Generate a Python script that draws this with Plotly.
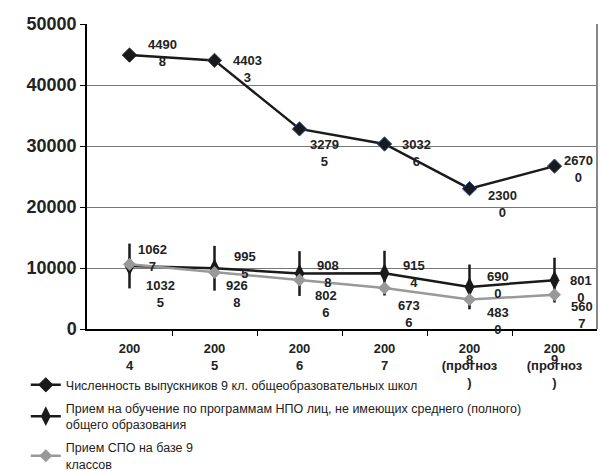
import plotly.graph_objects as go

years = ["2004", "2005", "2006", "2007", "2008", "2009"]
tick_labels = ["200<br>4", "200<br>5", "200<br>6", "200<br>7", "200<br>(прогноз<br>)", "200<br>(прогноз<br>)"]
forecast_digits = ["", "", "", "", "8", "9"]

graduates = [44908, 44033, 32795, 30326, 23000, 26700]
npo = [10325, 9955, 9088, 9154, 6900, 8010]
spo = [10627, 9268, 8026, 6736, 4830, 5607]

names = [
    "Численность выпускников 9 кл. общеобразовательных школ",
    "Прием на обучение по программам НПО лиц, не имеющих среднего (полного)<br>общего образования",
    "Прием СПО на базе 9<br>классов",
]

# label offsets in pixels (dx right, dy down)
off_grad = [(33, -2), (33, 9), (25, 24), (32, 9), (33, 15), (24, 3)]
off_npo = [(31, 28), (30, -3), (28, 0), (29, 1), (28, -2), (26, 9)]
off_spo = [(23, -6), (22, 22), (26, 24), (24, 26), (28, 21), (27, 20)]

FONT = "Liberation Sans, Arial, sans-serif"

xpos = list(range(len(years)))

fig = go.Figure()

fig.add_trace(go.Scatter(
    x=xpos, y=graduates, mode="lines+markers", name=names[0],
    line=dict(color="#1a1a1a", width=2.5),
    marker=dict(symbol="diamond", size=11, color="#1a1a1a",
                line=dict(color=["#1a1a1a"] + ["#2a4a9a"] * 5, width=1)),
    legendgroup="a", text=years, hoverinfo="text+y",
))
fig.add_trace(go.Scatter(
    x=xpos, y=npo, mode="markers", showlegend=False,
    marker=dict(symbol="line-ns", size=32, line=dict(color="#1a1a1a", width=2.5)),
    legendgroup="b", hoverinfo="skip",
))
fig.add_trace(go.Scatter(
    x=xpos, y=npo, mode="lines+markers", name=names[1],
    line=dict(color="#1a1a1a", width=2.5),
    marker=dict(symbol="diamond-tall", size=14, color="#1a1a1a"),
    legendgroup="b", text=years, hoverinfo="text+y",
))
fig.add_trace(go.Scatter(
    x=xpos, y=spo, mode="lines+markers", name=names[2],
    line=dict(color="#999999", width=2.5),
    marker=dict(symbol="diamond", size=10, color="#999999"),
    legendgroup="c", text=years, hoverinfo="text+y",
))

annotations = []
def lab(v):
    s = str(v)
    return "<b>" + s[:-1] + "</b><br><b>" + s[-1] + "</b>"

for series, offs in ((graduates, off_grad), (npo, off_npo), (spo, off_spo)):
    for xv, yv, (dx, dy) in zip(xpos, series, offs):
        annotations.append(dict(
            x=xv, y=yv, xref="x", yref="y", text=lab(yv), showarrow=False,
            xshift=dx, yshift=-dy, xanchor="center", yanchor="middle",
            font=dict(family=FONT, size=13, color="#222222"),
        ))

for xv, d in zip(xpos, forecast_digits):
    if d:
        annotations.append(dict(
            x=xv, y=-0.1, xref="x", yref="paper", text="<b>" + d + "</b>",
            showarrow=False, xanchor="center", yanchor="middle",
            font=dict(family=FONT, size=13, color="#222222"),
        ))

fig.update_layout(
    width=603, height=471,
    margin=dict(l=87, r=6, t=24, b=142, autoexpand=False),
    paper_bgcolor="white", plot_bgcolor="white",
    showlegend=True,
    legend=dict(
        x=-0.12, y=-0.135, xanchor="left", yanchor="top",
        font=dict(family=FONT, size=12.5, color="#222222"),
        tracegroupgap=4, bgcolor="rgba(0,0,0,0)",
    ),
    annotations=annotations,
    shapes=[dict(type="line", xref="paper", yref="paper", x0=1, x1=1, y0=0, y1=1,
                 line=dict(color="#888888", width=2))],
)
fig.update_xaxes(
    range=[-0.5, len(years) - 0.5], tickmode="array", tickvals=xpos,
    ticktext=["<b>" + t.replace("<br>", "</b><br><b>") + "</b>" for t in tick_labels],
    tickfont=dict(family=FONT, size=13, color="#222222"),
    showline=True, linecolor="black", linewidth=1.5, ticklabelstandoff=7,
    ticks="", showgrid=False, zeroline=False, automargin=False,
    minor=dict(tickmode="array", tickvals=[i + 0.5 for i in xpos[:-1]], ticks="outside",
               ticklen=5, tickcolor="black", showgrid=False),
)
fig.update_yaxes(
    range=[0, 50000], tickvals=[0, 10000, 20000, 30000, 40000, 50000],
    ticktext=["<b>0</b>", "<b>10000</b>", "<b>20000</b>", "<b>30000</b>", "<b>40000</b>", "<b>50000</b>"],
    tickfont=dict(family=FONT, size=18, color="#222222"),
    showline=True, linecolor="black", linewidth=1.5,
    ticks="outside", ticklen=5, tickcolor="black", automargin=False,
    showgrid=True, gridcolor="#777777", gridwidth=1, zeroline=False,
)

fig.write_html("out.html", config={"displayModeBar": False},
               post_script="document.body.style.margin='0';")
